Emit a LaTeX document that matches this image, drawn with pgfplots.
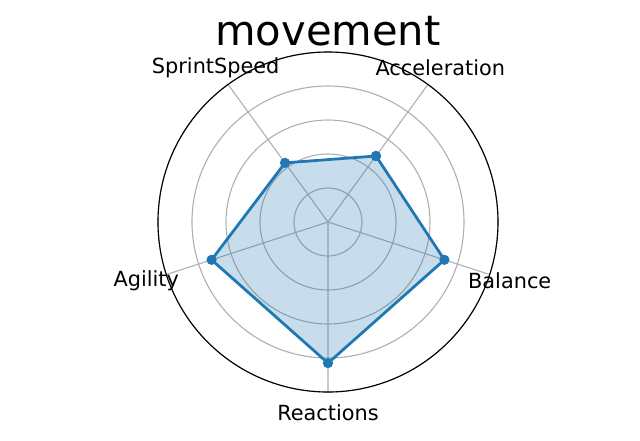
\documentclass[border=0pt]{standalone}
\usepackage{pgfplots}
\pgfplotsset{compat=1.18}
\usepgfplotslibrary{polar}
\usepackage{fontspec}
\setmainfont{DejaVu Sans}
\definecolor{tabblue}{HTML}{1F77B4}
\definecolor{gridgray}{HTML}{B0B0B0}
\begin{document}
\begin{tikzpicture}
\useasboundingbox (-236.16pt,-156.96pt) rectangle (224.64pt,159.84pt);
\begin{polaraxis}[
  at={(0,0)}, anchor=origin,
  scale only axis, width=244.8pt, height=244.8pt,
  ymin=0, ymax=100,
  xtick={54,126,198,270,342},
  xticklabels={},
  ytick={20,40,60,80,100},
  yticklabels={},
  xmajorgrids, ymajorgrids,
  grid style={gridgray, line width=0.8pt},
  major tick length=0pt,
  x axis line style={black, line width=0.8pt},
  y axis line style={draw=none},
  clip=false,
]
\addplot[draw=none, fill=tabblue, fill opacity=0.25, forget plot]
  coordinates {(54,48) (126,43) (198,72) (270,83) (342,72) (54,48)};
\addplot[tabblue, line width=2pt, mark=*, mark size=2.6pt, mark options={solid, fill=tabblue}]
  coordinates {(54,48) (126,43) (198,72) (270,83) (342,72) (54,48)};
\node[font=\fontsize{15}{18}\selectfont, anchor=center] at (axis cs:54,112.4) {Acceleration};
\node[font=\fontsize{15}{18}\selectfont, anchor=center] at (axis cs:126,112.4) {SprintSpeed};
\node[font=\fontsize{15}{18}\selectfont, anchor=center] at (axis cs:198,112.4) {Agility};
\node[font=\fontsize{15}{18}\selectfont, anchor=center] at (axis cs:270,112.4) {Reactions};
\node[font=\fontsize{15}{18}\selectfont, anchor=center] at (axis cs:342,112.4) {Balance};
\end{polaraxis}
\node[anchor=base, font=\fontsize{30}{36}\selectfont] at (0,127.44pt) {movement};
\end{tikzpicture}
\end{document}
